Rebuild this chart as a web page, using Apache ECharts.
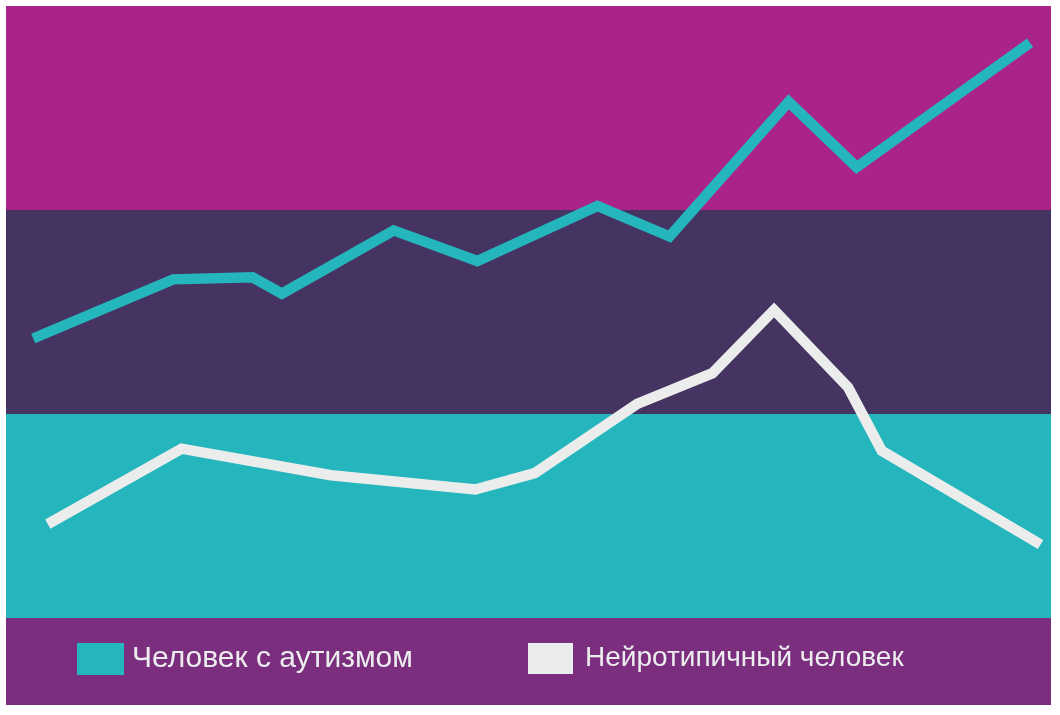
<!DOCTYPE html>
<html><head><meta charset="utf-8">
<script src="https://cdn.jsdelivr.net/npm/echarts@6/dist/echarts.min.js"></script>
<style>html,body{margin:0;padding:0;background:#fff}#c{width:1060px;height:715px}</style>
</head><body><div id="c"></div>
<script>
// Data (x: position 0-100 along the axis, y: 0-3, one unit per colour band)
const seriesNames = ['Человек с аутизмом', 'Нейротипичный человек'];
const autismX = [2.6, 16.0, 23.6, 26.4, 37.1, 45.1, 56.6, 63.5, 74.9, 81.4, 98.0];
const autismY = [1.37, 1.66, 1.67, 1.59, 1.90, 1.75, 2.02, 1.87, 2.53, 2.21, 2.82];
const typicalX = [4.0, 16.8, 31.1, 44.9, 50.6, 60.4, 67.6, 73.5, 80.6, 83.8, 99.0];
const typicalY = [0.46, 0.83, 0.70, 0.63, 0.71, 1.05, 1.20, 1.51, 1.13, 0.82, 0.36];
const bandRanges = [[0, 1], [1, 2], [2, 3]];

const bandColors = ['#25B5BD', '#453461', '#A92486'];
const zip = (xs, ys) => xs.map((x, i) => [x, ys[i]]);
const legendFont = { color: '#ECEDEE', fontFamily: '"Liberation Sans", Arial, sans-serif' };

const chart = echarts.init(document.getElementById('c'));
chart.setOption({
  backgroundColor: '#ffffff',
  animation: false,
  graphic: [{
    type: 'rect', left: 6, top: 618, shape: { width: 1045, height: 87 },
    style: { fill: '#7B2D7E' }, z: -1
  }],
  grid: { left: 6, top: 6, width: 1045, height: 612 },
  xAxis: { type: 'value', min: 0, max: 100, show: false },
  yAxis: { type: 'value', min: 0, max: 3, show: false },
  legend: [
    { data: [seriesNames[0]], left: 77, top: 643, padding: 0, itemWidth: 47, itemHeight: 32, icon: 'rect',
      textStyle: Object.assign({ fontSize: 30, padding: [1, 0, 0, 3] }, legendFont) },
    { data: [seriesNames[1]], left: 528, top: 643, padding: 0, itemWidth: 45, itemHeight: 31, icon: 'rect',
      textStyle: Object.assign({ fontSize: 28, padding: [0, 0, 0, 7] }, legendFont) }
  ],
  series: [
    {
      name: 'bands', type: 'line', data: [], silent: true,
      markArea: {
        silent: true,
        data: bandRanges.map((r, i) => [
          { yAxis: r[0], itemStyle: { color: bandColors[i], opacity: 1 } },
          { yAxis: r[1] }
        ])
      }
    },
    {
      name: seriesNames[0], type: 'line', data: zip(autismX, autismY),
      symbol: 'none', color: '#25B5BD', itemStyle: { color: '#25B5BD' },
      lineStyle: { width: 10.5, color: '#25B5BD', cap: 'butt', join: 'miter' }, z: 3
    },
    {
      name: seriesNames[1], type: 'line', data: zip(typicalX, typicalY),
      symbol: 'none', color: '#EAEDEC', itemStyle: { color: '#EAEDEC' },
      lineStyle: { width: 10.5, color: '#EAEDEC', cap: 'butt', join: 'miter' }, z: 3
    }
  ]
});
</script></body></html>
